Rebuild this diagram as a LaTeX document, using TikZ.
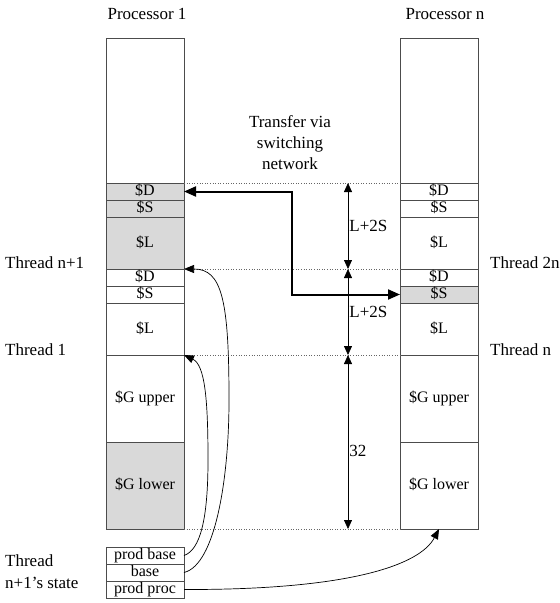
\documentclass[tikz,border=0pt]{standalone}
\usepackage{fontspec}
\setmainfont{Liberation Serif}
\usetikzlibrary{arrows.meta}

\begin{document}
\begin{tikzpicture}[x=1pt, y=-1pt, font=\fontsize{17}{21}\selectfont, inner sep=2pt,
    cell/.style={draw=black!70, line width=0.8pt, minimum width=78pt, inner sep=0pt, outer sep=0pt,
      font=\fontsize{16}{18}\selectfont, text height=11pt, text depth=3pt},
    shaded/.style={cell, fill=black!15},
    guide/.style={dotted, draw=black!60, line width=0.6pt},
    dim/.style={{Triangle[length=9pt,width=8pt]}-{Triangle[length=9pt,width=8pt]}, line width=0.8pt},
    link/.style={-{Triangle[length=10pt,width=8pt]}, line width=0.7pt},
    transfer/.style={{Triangle[length=12pt,width=10pt]}-{Triangle[length=12pt,width=10pt]}, line width=2pt}]
  \useasboundingbox (0,0) rectangle (560,603);

  \node (p1) at (147,14) {Processor 1};
  \node (pn) at (445,14) {Processor n};

  % processor 1
  \node[cell, minimum height=145pt] (ltop) at (145,110.5) {};
  \node[shaded, minimum height=17pt] (ld1) at (145,191.5) {\$D};
  \node[shaded, minimum height=17pt] (ls1) at (145,208.5) {\$S};
  \node[shaded, minimum height=52pt] (ll1) at (145,243) {\$L};
  \node[cell, minimum height=17pt] (ld2) at (145,277.5) {\$D};
  \node[cell, minimum height=17pt] (ls2) at (145,294.5) {\$S};
  \node[cell, minimum height=52pt] (ll2) at (145,329) {\$L};
  \node[cell, minimum height=87pt] (lgu) at (145,398.5) {\$G upper};
  \node[shaded, minimum height=87pt] (lgl) at (145,485.5) {\$G lower};

  % processor n
  \node[cell, minimum height=145pt] (rtop) at (439,110.5) {};
  \node[cell, minimum height=17pt] (rd1) at (439,191.5) {\$D};
  \node[cell, minimum height=17pt] (rs1) at (439,208.5) {\$S};
  \node[cell, minimum height=52pt] (rl1) at (439,243) {\$L};
  \node[cell, minimum height=17pt] (rd2) at (439,277.5) {\$D};
  \node[shaded, minimum height=17pt] (rs2) at (439,294.5) {\$S};
  \node[cell, minimum height=52pt] (rl2) at (439,329) {\$L};
  \node[cell, minimum height=87pt] (rgu) at (439,398.5) {\$G upper};
  \node[cell, minimum height=87pt] (rgl) at (439,485.5) {\$G lower};

  % thread state
  \node[cell, minimum height=17pt] (pbase) at (145,555.5) {prod base};
  \node[cell, minimum height=17pt] (base) at (145,572.5) {base};
  \node[cell, minimum height=17pt] (pproc) at (145,589.5) {prod proc};

  \node[anchor=west] (tn1) at (3,263) {Thread n+1};
  \node[anchor=west] (t1) at (3,350) {Thread 1};
  \node[anchor=west] (t2n) at (488,263) {Thread 2n};
  \node[anchor=west] (tn) at (488,350) {Thread n};
  \node[anchor=west, align=left] (state) at (3,572) {Thread\\[1pt]n+1's state};
  \node[align=center] (net) at (290,143) {Transfer via\\switching\\network};

  \draw[guide] (ld1.north east) -- (rd1.north west);
  \draw[guide] (ll1.south east) -- (rl1.south west);
  \draw[guide] (ll2.south east) -- (rl2.south west);
  \draw[guide] (lgl.south east) -- (rgl.south west);

  \coordinate (m0) at (348,183);
  \coordinate (m1) at (348,269);
  \coordinate (m2) at (348,355);
  \coordinate (m3) at (348,529);
  \draw[dim] (m0) -- (m1) node[midway, right, inner sep=1pt] {L+2S};
  \draw[dim] (m1) -- (m2) node[midway, right, inner sep=1pt] {L+2S};
  \draw[dim] (m2) -- (m3) node[pos=0.55, right, inner sep=1pt] {32};

  \draw[transfer] (ld1.east) -- ++(108,0) |- (rs2.west);

  \draw[link] (pbase.east) .. controls (200,550) and (208,520) .. (208,460)
    .. controls (208,400) and (205,365) .. (ll2.south east);
  \draw[link] (base.east) .. controls (215,565) and (229,480) .. (229,400)
    .. controls (229,300) and (222,269) .. (ll1.south east);
  \draw[link] (pproc.east) .. controls (350,590) and (420,565) .. (rgl.south);
\end{tikzpicture}
\end{document}
